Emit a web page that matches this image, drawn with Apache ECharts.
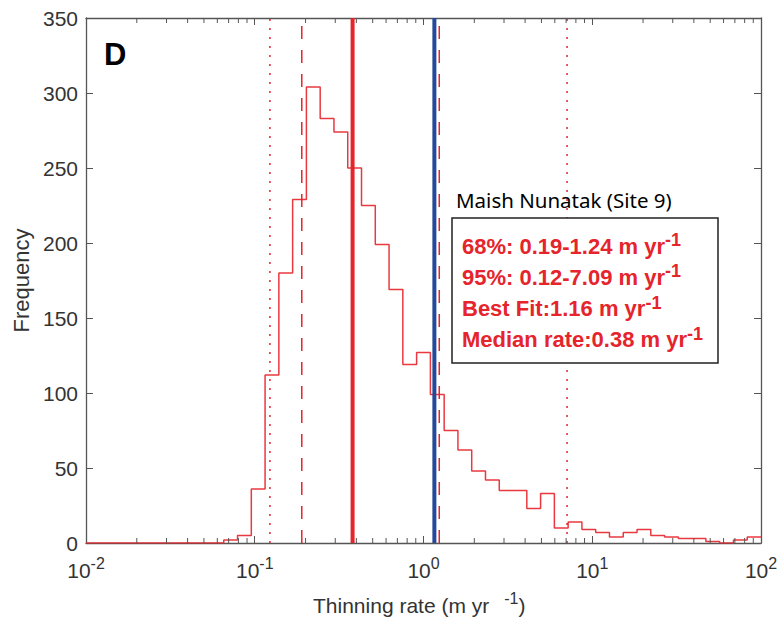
<!DOCTYPE html>
<html><head><meta charset="utf-8">
<script src="https://cdn.jsdelivr.net/npm/echarts@6/dist/echarts.min.js"></script>
<style>html,body{margin:0;padding:0;background:#fff}#c{width:784px;height:624px}</style>
</head><body><div id="c"></div>
<script>
// ---- data ----
const xMin = 0.01, xMax = 100;          // log axis range
const binCount = 49;                     // log-spaced bins over the axis range
const counts = [0,0,0,0,0,0,0,0,0,0,
                2,5,36,112,180,229,304,283,274,250,
                225,199,169,119,127,99,75,62,48,42,
                35,35,23,33,10,14,9,7,4,7,
                9,5,4,3,3,1,0,2,4];
const yMin = 0, yMax = 350, yStep = 50;
const ci95 = [0.123, 7.09];   // dotted lines
const ci68 = [0.19, 1.24];    // dashed lines
const medianRate = 0.38;      // solid red
const bestFit = 1.16;         // solid blue
const panelLabel = 'D';
const siteTitle = 'Maish Nunatak (Site 9)';
const statText = ['68%: 0.19-1.24 m yr', '95%: 0.12-7.09 m yr', 'Best Fit:1.16 m yr', 'Median rate:0.38 m yr'];
const statSup = '-1';
const xTitle = 'Thinning rate (m yr';
const xTitleSup = '-1';
const yTitle = 'Frequency';

// ---- build ----
const lo = Math.log10(xMin), hi = Math.log10(xMax);
const edges = [];
for (let n = 0; n <= binCount; n++) edges.push(Math.pow(10, lo + n * (hi - lo) / binCount));
const stairs = [];
counts.forEach((c, n) => { stairs.push([edges[n], c]); stairs.push([edges[n + 1], c]); });
const minorVals = [];
for (let d = Math.round(lo); d < Math.round(hi); d++) for (let m = 2; m <= 9; m++) minorVals.push([m * Math.pow(10, d), 0]);

const AX = '#555', TXT = '#333', RED = '#e5242b', BLUE = '#24499a';
const vline = (v, color, width, type) => ({
  type: 'line', data: [[v, yMin], [v, yMax]], symbol: 'none', silent: true, z: 4,
  lineStyle: { color, width, type }, animation: false
});

const chart = echarts.init(document.getElementById('c'), null, { renderer: 'svg' });
const tickFont = { fontFamily: 'Liberation Sans', color: TXT };
chart.setOption({
  animation: false,
  grid: { left: 86, right: 23, top: 18, bottom: 81 },
  xAxis: [{
    type: 'log', logBase: 10, min: xMin, max: xMax, splitNumber: 4, position: 'bottom',
    axisLine: { show: true, onZero: false, lineStyle: { color: AX, width: 1.3 } },
    axisTick: { show: true, inside: true, length: 7, lineStyle: { color: AX, width: 1 } },
    splitLine: { show: false },
    axisLabel: {
      margin: 12,
      formatter: v => '{b|10}{s|' + Math.round(Math.log10(v)) + '}',
      rich: {
        b: Object.assign({ fontSize: 21, lineHeight: 30 }, tickFont),
        s: Object.assign({ fontSize: 16, lineHeight: 16, verticalAlign: 'top' }, tickFont)
      }
    }
  }, {
    type: 'log', logBase: 10, min: xMin, max: xMax, splitNumber: 4, position: 'top',
    axisLine: { show: true, onZero: false, lineStyle: { color: AX, width: 1.3 } },
    axisTick: { show: true, inside: true, length: 7, lineStyle: { color: AX, width: 1 } },
    splitLine: { show: false }, axisLabel: { show: false }
  }],
  yAxis: [{
    type: 'value', min: yMin, max: yMax, interval: yStep, position: 'left',
    axisLine: { show: true, lineStyle: { color: AX, width: 1.3 } },
    axisTick: { show: true, inside: true, length: 7, lineStyle: { color: AX, width: 1 } },
    splitLine: { show: false },
    axisLabel: Object.assign({ fontSize: 21, margin: 8 }, tickFont),
    name: yTitle, nameLocation: 'middle', nameGap: 44,
    nameTextStyle: Object.assign({ fontSize: 22 }, tickFont)
  }, {
    type: 'value', min: yMin, max: yMax, interval: yStep, position: 'right',
    axisLine: { show: true, lineStyle: { color: AX, width: 1.3 } },
    axisTick: { show: true, inside: true, length: 7, lineStyle: { color: AX, width: 1 } },
    splitLine: { show: false }, axisLabel: { show: false }
  }],
  series: [
    { type: 'line', data: stairs, symbol: 'none', silent: true, z: 3,
      lineStyle: { color: RED, width: 1.5, opacity: 0.9 } },
    vline(ci95[0], RED, 1.5, [2, 7]),
    vline(ci95[1], RED, 1.5, [2, 7]),
    vline(ci68[0], RED, 1.5, [13, 11]),
    vline(ci68[1], RED, 1.5, [13, 11]),
    vline(medianRate, RED, 4, 'solid'),
    vline(bestFit, BLUE, 4, 'solid'),
    { type: 'custom', data: minorVals, silent: true, z: 5, clip: false,
      encode: { x: 0, y: 1 },
      renderItem: (params, api) => {
        const b = api.coord([api.value(0), yMin]);
        const t = api.coord([api.value(0), yMax]);
        return { type: 'group', children: [
          { type: 'line', shape: { x1: b[0], y1: b[1], x2: b[0], y2: b[1] - 5 }, style: { stroke: AX, lineWidth: 1 } },
          { type: 'line', shape: { x1: t[0], y1: t[1], x2: t[0], y2: t[1] + 5 }, style: { stroke: AX, lineWidth: 1 } }
        ] };
      } }
  ],
  graphic: [
    { type: 'text', x: 104, y: 54, z: 100,
      style: { text: panelLabel, font: 'bold 31px "Liberation Sans"', fill: '#000', align: 'left', verticalAlign: 'middle' } },
    { type: 'text', x: 456, y: 200, z: 100,
      style: { text: siteTitle, font: '20.5px "Noto Sans"', fill: '#000', align: 'left', verticalAlign: 'middle' } },
    { type: 'rect', z: 100, shape: { x: 452, y: 218, width: 266, height: 145 },
      style: { fill: '#fff', stroke: '#222', lineWidth: 1.5 } }
  ].concat(statText.map((t, i) => ({
    type: 'text', x: 462, y: 246 + i * 31.3, z: 101,
    style: {
      text: '{a|' + t + '}{s|' + statSup + '}', align: 'left', verticalAlign: 'middle',
      rich: {
        a: { fontFamily: 'Liberation Sans', fontWeight: 'bold', fontSize: 22, lineHeight: 30, fill: RED, color: RED },
        s: { fontFamily: 'Liberation Sans', fontWeight: 'bold', fontSize: 18, lineHeight: 15, verticalAlign: 'top', fill: RED, color: RED }
      }
    }
  }))).concat([{
    type: 'text', x: 313, y: 605, z: 100,
    style: {
      text: '{a|' + xTitle + '}{s|' + xTitleSup + '}{a|)}', align: 'left', verticalAlign: 'middle',
      rich: {
        a: { fontFamily: 'Liberation Sans', fontSize: 21, lineHeight: 30, fill: TXT, color: TXT },
        s: { fontFamily: 'Liberation Sans', fontSize: 16, lineHeight: 16, verticalAlign: 'top', padding: [0, 0, 0, 15], fill: TXT, color: TXT }
      }
    }
  }])
});
</script></body></html>
